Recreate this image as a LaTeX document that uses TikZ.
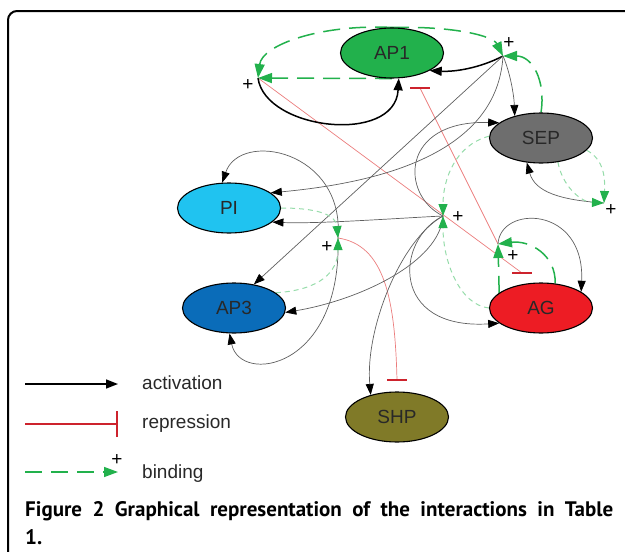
\documentclass[tikz,border=0pt]{standalone}
\usepackage{fontspec}
\setmainfont{Liberation Sans}
\newfontfamily\capfont{PT Sans}
\usetikzlibrary{arrows.meta,shapes.geometric}
\pgfdeclarelayer{bg}
\pgfsetlayers{bg,main}

\definecolor{apgreen}{RGB}{34,177,76}
\definecolor{sepgray}{RGB}{110,110,110}
\definecolor{piblue}{RGB}{32,195,240}
\definecolor{apblue}{RGB}{10,108,185}
\definecolor{agred}{RGB}{237,28,36}
\definecolor{shpolive}{RGB}{128,122,40}
\definecolor{bindlight}{RGB}{150,220,170}
\definecolor{edgegray}{RGB}{95,95,95}
\definecolor{replight}{RGB}{235,125,125}
\definecolor{repdark}{RGB}{205,35,45}
\definecolor{labelink}{RGB}{40,40,40}

\begin{document}
\begin{tikzpicture}[x=1pt,y=-1pt,
  gene/.style={ellipse,draw=black,line width=1.1pt,minimum width=103pt,
    minimum height=50pt,inner sep=0pt,font=\fontsize{19}{22}\selectfont,text=labelink},
  act/.style={draw=edgegray,line width=0.7pt,
    -{Triangle[length=11pt,width=8pt,color=black]}},
  strongact/.style={draw=black,line width=1.5pt,
    -{Triangle[length=12pt,width=9pt]}},
  bind/.style={draw=apgreen,line width=1.5pt,dash pattern=on 17pt off 9pt,
    -{Triangle[length=14pt,width=10pt]}},
  bindthin/.style={draw=bindlight,line width=1pt,dash pattern=on 5pt off 4pt,
    -{Triangle[length=12pt,width=9pt,color=apgreen]}},
  rep/.style={draw=replight,line width=0.7pt},
  repbar/.style={draw=repdark,line width=2pt},
  plus/.style={font=\fontsize{19}{19}\selectfont,inner sep=0pt},
  legendtext/.style={anchor=west,font=\fontsize{19}{22}\selectfont,text=labelink,inner sep=0pt},
  captext/.style={anchor=base west,inner sep=0pt,font=\capfont\bfseries\fontsize{21}{24}\selectfont}
]
\useasboundingbox (0,0) rectangle (625,552);

% outer frame
\draw[line width=2pt,rounded corners=9pt] (8,600) -- (8,11) -- (640,11);

% genes
\node[gene,fill=apgreen]  (AP1) at (392,53)  {AP1};
\node[gene,fill=sepgray]  (SEP) at (541,138) {SEP};
\node[gene,fill=piblue]   (PI)  at (229,208) {PI};
\node[gene,fill=apblue]   (AP3) at (234,308) {AP3};
\node[gene,fill=agred]    (AG)  at (541,308) {AG};
\node[gene,fill=shpolive] (SHP) at (397,417) {SHP};

% complexes formed by binding
\coordinate (J1) at (503,56);
\coordinate (J2) at (258,78);
\coordinate (J3) at (604,203);
\coordinate (J4) at (443,216);
\coordinate (J5) at (338,238);
\coordinate (J6) at (498,244);
\node[plus] (p1) at (509,43)  {+};
\node[plus] (p2) at (248,85)  {+};
\node[plus] (p3) at (611,210) {+};
\node[plus] (p4) at (458,217) {+};
\node[plus] (p5) at (327,247) {+};
\node[plus] (p6) at (513,256) {+};

% ends of the repression bars
\coordinate (rAP1) at (420,88);
\coordinate (rAG)  at (522,273);
\coordinate (rSHP) at (397,380);

\begin{pgfonlayer}{bg}
  % repression
  \draw[rep] (J2) -- (rAG);
  \draw[rep] (J6) -- (rAP1);
  \draw[rep] (J5) .. controls (385,245) and (395,300) .. (rSHP);
  \draw[repbar] ([xshift=-10pt]rAP1) -- ([xshift=10pt]rAP1);
  \draw[repbar] ([xshift=-10pt]rAG) -- ([xshift=10pt]rAG);
  \draw[repbar] ([xshift=-10pt]rSHP) -- ([xshift=10pt]rSHP);

  % activation
  \draw[strongact] (J1) .. controls (480,68) and (455,72) .. (AP1.-25);
  \draw[strongact] (J2) .. controls (265,130) and (395,145) .. (AP1.-75);
  \draw[act] (J1) .. controls (510,72) and (514,95) .. (SEP.140);
  \draw[act] (J1) .. controls (498,140) and (410,180) .. (PI.20);
  \draw[act] (J1) -- (AP3.50);
  \draw[act] (J3) .. controls (560,200) and (535,192) .. (SEP.-120);
  \draw[act] (J4) .. controls (400,195) and (400,120) .. (SEP.160);
  \draw[act] (J4) .. controls (400,218) and (320,224) .. (PI.-18);
  \draw[act] (J4) .. controls (440,262) and (360,300) .. (AP3.-5);
  \draw[act] (J4) .. controls (400,240) and (365,330) .. (SHP.140);
  \draw[act] (J4) .. controls (395,240) and (390,330) .. (AG.-160);
  \draw[act] (J5) .. controls (345,150) and (240,130) .. (PI.105);
  \draw[act] (J5) .. controls (342,370) and (240,385) .. (AP3.-100);
  \draw[act] (J6) .. controls (500,205) and (585,205) .. (AG.22);

  % binding
  \draw[bind] (AP1.north) .. controls (320,24) and (262,45) .. (J2);
  \draw[bind] (AP1.north) .. controls (455,26) and (493,36) .. (J1);
  \draw[bind] (AP1.south) -- (J2);
  \draw[bind] (SEP.north) .. controls (546,80) and (532,56) .. (J1);
  \draw[bind] (AG.160) -- (J6);
  \draw[bind] (AG.60) .. controls (556,255) and (530,240) .. (J6);
  \draw[bindthin] (SEP.-15) .. controls (605,160) and (605,180) .. (J3);
  \draw[bindthin] (SEP.-55) .. controls (562,185) and (580,202) .. (J3);
  \draw[bindthin] (SEP.178) .. controls (455,145) and (443,180) .. (J4);
  \draw[bindthin] (AG.west) .. controls (460,305) and (443,262) .. (J4);
  \draw[bindthin] (PI.east) .. controls (315,208) and (336,214) .. (J5);
  \draw[bindthin] (AP3.20) .. controls (320,290) and (338,272) .. (J5);
\end{pgfonlayer}

% legend
\coordinate (la0) at (25,384);  \coordinate (la1) at (118,384);
\coordinate (lr0) at (25,424);  \coordinate (lr1) at (117,424);
\coordinate (lb0) at (25,472);  \coordinate (lb1) at (118,472);
\draw[strongact] (la0) -- (la1);
\draw[draw=repdark,line width=1.5pt] (lr0) -- (lr1);
\draw[repbar,line width=2.5pt] ([yshift=-13pt]lr1) -- ([yshift=13pt]lr1);
\draw[bind] (lb0) -- (lb1);
\node[plus] (lp) at (117,460) {+};
\node[legendtext] (lta) at (142,383) {activation};
\node[legendtext] (ltr) at (142,424) {repression};
\node[legendtext] (ltb) at (142,474) {binding};

% caption
\node[captext] (cap1) at (25,516)
  {\hbox to 588pt{Figure 2 Graphical representation of the interactions in Table}};
\node[captext] (cap2) at (25,544) {1.};
\end{tikzpicture}
\end{document}
